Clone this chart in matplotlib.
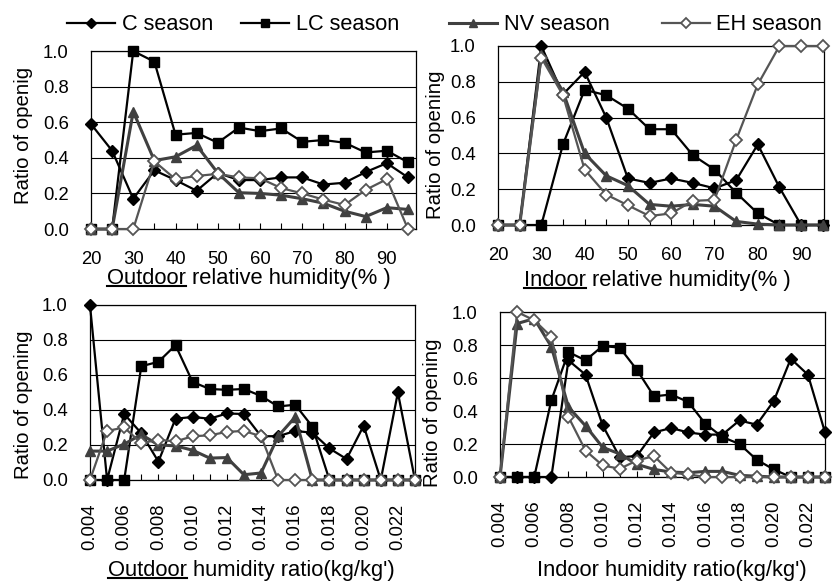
import matplotlib
matplotlib.use('Agg')
import matplotlib.pyplot as plt
from matplotlib.lines import Line2D

plt.rcParams['font.family'] = ['Liberation Sans', 'DejaVu Sans']

# x categories
rh = [20, 25, 30, 35, 40, 45, 50, 55, 60, 65, 70, 75, 80, 85, 90, 95]
rh_labels = ['20', '', '30', '', '40', '', '50', '', '60', '', '70', '', '80', '', '90', '']
hr = [0.004, 0.005, 0.006, 0.007, 0.008, 0.009, 0.010, 0.011, 0.012, 0.013,
      0.014, 0.015, 0.016, 0.017, 0.018, 0.019, 0.020, 0.021, 0.022, 0.023]
hr_labels = ['0.004', '', '0.006', '', '0.008', '', '0.010', '', '0.012', '',
             '0.014', '', '0.016', '', '0.018', '', '0.020', '', '0.022', '']

# outdoor relative humidity
out_rh_c = [0.59, 0.44, 0.17, 0.33, 0.275, 0.215, 0.315, 0.275, 0.275, 0.29, 0.29, 0.25, 0.26, 0.32, 0.37, 0.29]
out_rh_lc = [0.0, 0.0, 1.0, 0.94, 0.53, 0.54, 0.485, 0.57, 0.55, 0.565, 0.49, 0.50, 0.485, 0.43, 0.44, 0.375]
out_rh_nv = [0.0, 0.0, 0.66, 0.384, 0.406, 0.47, 0.315, 0.204, 0.2, 0.19, 0.17, 0.145, 0.10, 0.07, 0.12, 0.11]
out_rh_eh = [0.0, 0.0, 0.0, 0.38, 0.28, 0.298, 0.31, 0.29, 0.285, 0.23, 0.2, 0.165, 0.135, 0.22, 0.28, 0.0]

# indoor relative humidity
in_rh_c = [0.0, 0.0, 1.0, 0.73, 0.855, 0.60, 0.26, 0.235, 0.26, 0.235, 0.205, 0.25, 0.45, 0.21, 0.0, 0.0]
in_rh_lc = [0.0, 0.0, 0.0, 0.45, 0.755, 0.725, 0.65, 0.535, 0.535, 0.39, 0.31, 0.18, 0.065, 0.0, 0.0, 0.0]
in_rh_nv = [0.0, 0.0, 0.95, 0.745, 0.40, 0.275, 0.22, 0.115, 0.105, 0.115, 0.105, 0.02, 0.005, 0.0, 0.0, 0.0]
in_rh_eh = [0.0, 0.0, 0.935, 0.725, 0.31, 0.17, 0.11, 0.05, 0.065, 0.135, 0.14, 0.475, 0.785, 1.0, 1.0, 1.0]

# outdoor humidity ratio
out_hr_c = [1.0, 0.0, 0.377, 0.267, 0.105, 0.35, 0.36, 0.35, 0.38, 0.377,
            0.25, 0.25, 0.28, 0.27, 0.18, 0.12, 0.31, 0.0, 0.50, 0.0]
out_hr_lc = [0.0, 0.0, 0.0, 0.65, 0.675, 0.77, 0.56, 0.52, 0.515, 0.52,
             0.48, 0.42, 0.43, 0.305, 0.0, 0.0, 0.0, 0.0, 0.0, 0.0]
out_hr_nv = [0.165, 0.165, 0.205, 0.26, 0.2, 0.195, 0.17, 0.125, 0.128, 0.03,
             0.04, 0.25, 0.36, 0.0, 0.0, 0.0, 0.0, 0.0, 0.0, 0.0]
out_hr_eh = [0.0, 0.28, 0.30, 0.21, 0.23, 0.22, 0.25, 0.255, 0.275, 0.28,
             0.25, 0.0, 0.0, 0.0, 0.0, 0.0, 0.0, 0.0, 0.0, 0.0]

# indoor humidity ratio
in_hr_c = [0.0, 0.0, 0.0, 0.0, 0.707, 0.62, 0.313, 0.12, 0.127, 0.27,
           0.297, 0.27, 0.257, 0.257, 0.343, 0.317, 0.46, 0.717, 0.62, 0.27]
in_hr_lc = [0.0, 0.0, 0.0, 0.465, 0.757, 0.707, 0.794, 0.784, 0.65, 0.489,
            0.50, 0.455, 0.323, 0.242, 0.2, 0.105, 0.046, 0.0, 0.0, 0.0]
in_hr_nv = [0.0, 0.93, 0.96, 0.79, 0.424, 0.31, 0.18, 0.14, 0.077, 0.046,
            0.03, 0.026, 0.034, 0.034, 0.01, 0.005, 0.0, 0.0, 0.0, 0.0]
in_hr_eh = [0.0, 1.0, 0.95, 0.85, 0.364, 0.16, 0.07, 0.05, 0.10, 0.127,
            0.026, 0.016, 0.0, 0.0, 0.0, 0.0, 0.0, 0.0, 0.0, 0.0]

season_names = ['C season', 'LC season', 'NV season', 'EH season']

styles = [
    dict(color='black', marker='D', ms=6.0, mfc='black', mec='black', lw=1.6),
    dict(color='black', marker='s', ms=7.0, mfc='black', mec='black', lw=1.6),
    dict(color='#404040', marker='^', ms=7.5, mfc='#404040', mec='#404040', lw=2.2),
    dict(color='#555555', marker='D', ms=6.5, mfc='white', mec='#555555', mew=1.3, lw=1.6),
]
draw_order = [3, 0, 1, 2]

W, H = 837, 582
fig = plt.figure(figsize=(W / 100, H / 100), dpi=100)


def panel(rect, x, xlabels, series, xlim, rot, xpad, ylabel, ylab_pos, xlabel, xlab_pos):
    ax = fig.add_axes(rect)
    for i in draw_order:
        ax.plot(x, series[i], clip_on=False, zorder=3 + i, **styles[i])
    ax.set_xlim(xlim)
    ax.set_ylim(0, 1.0)
    ax.set_yticks([0.0, 0.2, 0.4, 0.6, 0.8, 1.0])
    ax.set_yticklabels(['0.0', '0.2', '0.4', '0.6', '0.8', '1.0'])
    ax.yaxis.grid(True, color='black', lw=0.8)
    ax.set_axisbelow(True)
    ax.set_xticks(x)
    ax.set_xticklabels(xlabels, rotation=rot)
    ax.tick_params(axis='y', length=0, pad=16, labelsize=13.3)
    ax.tick_params(axis='x', direction='in', length=4.5, width=0.8, pad=xpad, labelsize=13.3)
    for s in ax.spines.values():
        s.set_linewidth(0.9)
        s.set_color('black')
    ax.set_ylabel(ylabel, fontsize=14.7)
    ax.yaxis.set_label_coords(*ylab_pos)
    ax.set_xlabel(xlabel, fontsize=15.8)
    ax.xaxis.set_label_coords(*xlab_pos)
    return ax


ax1 = panel([0.1087, 0.6065, 0.3883, 0.3058], rh, rh_labels,
            [out_rh_c, out_rh_lc, out_rh_nv, out_rh_eh], (20, 96.9), 0, 16,
            'Ratio of openig', (-0.178, 0.528),
            'Outdoor relative humidity(% )', (0.486, -0.219))
ax2 = panel([0.595, 0.6134, 0.3895, 0.3076], rh, rh_labels,
            [in_rh_c, in_rh_lc, in_rh_nv, in_rh_eh], (20, 95.3), 0, 16,
            'Ratio of opening', (-0.162, 0.45),
            'Indoor relative humidity(% )', (0.49, -0.251))
ax3 = panel([0.1075, 0.1753, 0.3883, 0.3007], hr, hr_labels,
            [out_hr_c, out_hr_lc, out_hr_nv, out_hr_eh], (0.004, 0.023), 90, 17,
            'Ratio of opening', (-0.175, 0.43),
            "Outdoor humidity ratio(kg/kg')", (0.497, -0.457))
ax4 = panel([0.5974, 0.1804, 0.3883, 0.2835], hr, hr_labels,
            [in_hr_c, in_hr_lc, in_hr_nv, in_hr_eh], (0.004, 0.023), 90, 17,
            'Ratio of opening', (-0.178, 0.39),
            "Indoor humidity ratio(kg/kg')", (0.53, -0.50))

# legends (two groups above the top panels)
handles = [Line2D([], [], **st) for st in styles]
fig.legend(handles[:2], season_names[:2], loc='center left', bbox_to_anchor=(67 / W, 1 - 25 / H),
           ncol=2, frameon=False, fontsize=15.7, borderpad=0, borderaxespad=0,
           handlelength=2.2, handletextpad=0.3, columnspacing=1.3, markerscale=0.8)
fig.legend(handles[2:], season_names[2:], loc='center left', bbox_to_anchor=(449 / W, 1 - 25 / H),
           ncol=2, frameon=False, fontsize=15.7, borderpad=0, borderaxespad=0,
           handlelength=2.2, handletextpad=0.3, columnspacing=2.4, markerscale=0.8)

# underline the first word of some x labels
fig.canvas.draw()
renderer = fig.canvas.get_renderer()
for ax, word in [(ax1, 'Outdoor'), (ax2, 'Indoor'), (ax3, 'Outdoor')]:
    lab = ax.xaxis.label
    bb = lab.get_window_extent(renderer)
    full = lab.get_text()
    _, _, d = renderer.get_text_width_height_descent(full, lab.get_fontproperties(), ismath=False)
    w, _, _ = renderer.get_text_width_height_descent(word, lab.get_fontproperties(), ismath=False)
    y = bb.y0 + d - 2.5
    fig.add_artist(Line2D([bb.x0 / W, (bb.x0 + w) / W], [y / H, y / H],
                          transform=fig.transFigure, color='black', lw=1.5))

fig.savefig('out.png', dpi=100)
